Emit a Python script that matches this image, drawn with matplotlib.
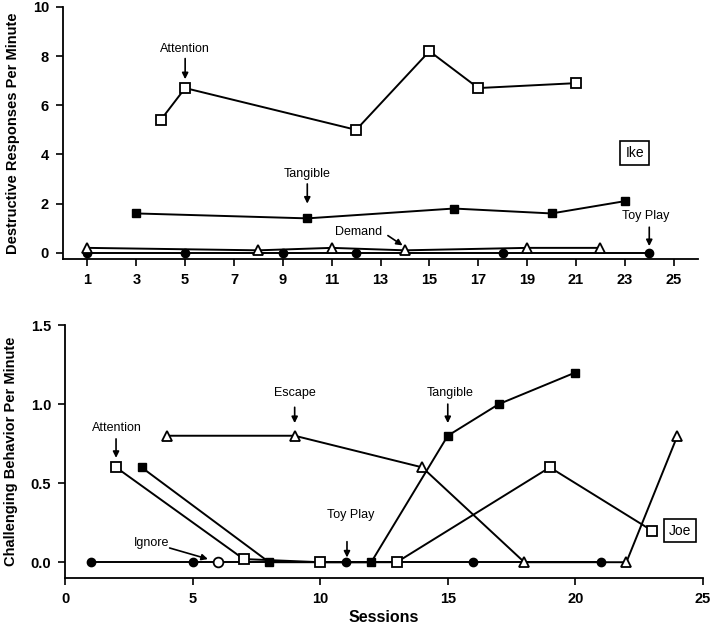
# Functional analysis graphs for Ike (top) and Joe (bottom)
import matplotlib
matplotlib.use("Agg")
from matplotlib import pyplot as plt

plt.rcParams['font.family'] = ['Liberation Sans', 'DejaVu Sans']

# Ike data
ike_att_x = [4, 5, 12, 15, 17, 21]
ike_att_y = [5.4, 6.7, 5.0, 8.2, 6.7, 6.9]
ike_tan_x = [3, 10, 16, 20, 23]
ike_tan_y = [1.6, 1.4, 1.8, 1.6, 2.1]
ike_dem_x = [1, 8, 11, 14, 19, 22]
ike_dem_y = [0.2, 0.1, 0.2, 0.1, 0.2, 0.2]
ike_toy_x = [1, 5, 9, 12, 18, 24]
ike_toy_y = [0, 0, 0, 0, 0, 0]
ike_xticks = [1, 3, 5, 7, 9, 11, 13, 15, 17, 19, 21, 23, 25]
ike_yticks = [0, 2, 4, 6, 8, 10]

# Joe data
joe_toy_x = [1, 5, 11, 16, 21]
joe_toy_y = [0, 0, 0, 0, 0]
joe_ign_x = [6]
joe_ign_y = [0]
joe_att_x = [2, 7, 10, 13, 19, 23]
joe_att_y = [0.6, 0.02, 0, 0, 0.6, 0.2]
joe_tan_x = [3, 8, 12, 15, 17, 20]
joe_tan_y = [0.6, 0, 0, 0.8, 1.0, 1.2]
joe_esc_x = [4, 9, 14, 18, 22, 24]
joe_esc_y = [0.8, 0.8, 0.6, 0, 0, 0.8]
joe_xticks = [0, 5, 10, 15, 20, 25]
joe_yticks = [0.0, 0.5, 1.0, 1.5]

fig = plt.figure(figsize=(7.12, 6.3), dpi=100)
ax1 = fig.add_axes([0.0885, 0.589, 0.892, 0.400])
ax2 = fig.add_axes([0.0913, 0.0825, 0.896, 0.4015])

lw = 1.4
ms = 7
sq_open = dict(marker='s', mfc='white', mec='black', mew=1.3, ms=ms)
sq_fill = dict(marker='s', mfc='black', mec='black', ms=ms - 1)
tri_open = dict(marker='^', mfc='white', mec='black', mew=1.3, ms=ms)
circ_fill = dict(marker='o', mfc='black', mec='black', ms=ms - 1)
circ_open = dict(marker='o', mfc='white', mec='black', mew=1.3, ms=ms)

# Top panel
ax1.plot(ike_toy_x, ike_toy_y, color='black', lw=lw, **circ_fill, zorder=3)
ax1.plot(ike_dem_x, ike_dem_y, color='black', lw=lw, **tri_open, zorder=4)
ax1.plot(ike_tan_x, ike_tan_y, color='black', lw=lw, **sq_fill, zorder=3)
ax1.plot(ike_att_x, ike_att_y, color='black', lw=lw, **sq_open, zorder=3)

arr = dict(arrowstyle='-|>', color='black', lw=1.2, mutation_scale=9,
           shrinkA=0, shrinkB=0)
fs = 9
ax1.annotate('', xy=(5, 7.06), xytext=(5, 7.9), arrowprops=arr)
ax1.text(5, 8.28, 'Attention', ha='center', va='center', fontsize=fs)
ax1.annotate('', xy=(10, 2.0), xytext=(10, 2.8), arrowprops=arr)
ax1.text(10, 3.2, 'Tangible', ha='center', va='center', fontsize=fs)
ax1.annotate('', xy=(13.9, 0.3), xytext=(13.3, 0.7), arrowprops=arr)
ax1.text(12.1, 0.84, 'Demand', ha='center', va='center', fontsize=fs)
ax1.annotate('', xy=(24, 0.27), xytext=(24, 1.04), arrowprops=arr)
ax1.text(23.85, 1.49, 'Toy Play', ha='center', va='center', fontsize=fs)
ax1.text(23.4, 4.05, 'Ike', ha='center', va='center', fontsize=10,
         bbox=dict(boxstyle='square,pad=0.35', fc='white', ec='black', lw=1.2))

ax1.set_xlim(0, 26)
ax1.set_ylim(-0.25, 10)
ax1.set_xticks(ike_xticks)
ax1.set_yticks(ike_yticks)
ax1.set_ylabel('Destructive Responses Per Minute', fontsize=10.5,
               fontweight='bold', labelpad=9)

# Bottom panel
ax2.plot(joe_toy_x, joe_toy_y, color='black', lw=lw, **circ_fill, zorder=3)
ax2.plot(joe_ign_x, joe_ign_y, color='black', lw=lw, **circ_open, zorder=4)
ax2.plot(joe_esc_x, joe_esc_y, color='black', lw=lw, **tri_open, zorder=4)
ax2.plot(joe_tan_x, joe_tan_y, color='black', lw=lw, **sq_fill, zorder=3)
ax2.plot(joe_att_x, joe_att_y, color='black', lw=lw, **sq_open, zorder=4)

ax2.annotate('', xy=(2, 0.66), xytext=(2, 0.78), arrowprops=arr)
ax2.text(2.05, 0.85, 'Attention', ha='center', va='center', fontsize=fs)
ax2.annotate('', xy=(9, 0.88), xytext=(9, 0.98), arrowprops=arr)
ax2.text(9.02, 1.07, 'Escape', ha='center', va='center', fontsize=fs)
ax2.annotate('', xy=(15, 0.88), xytext=(15, 1.0), arrowprops=arr)
ax2.text(15.1, 1.07, 'Tangible', ha='center', va='center', fontsize=fs)
ax2.annotate('', xy=(11.05, 0.03), xytext=(11.05, 0.13), arrowprops=arr)
ax2.text(11.2, 0.30, 'Toy Play', ha='center', va='center', fontsize=fs)
ax2.annotate('', xy=(5.6, 0.02), xytext=(4.1, 0.09), arrowprops=arr)
ax2.text(3.4, 0.12, 'Ignore', ha='center', va='center', fontsize=fs)
ax2.text(24.1, 0.2, 'Joe', ha='center', va='center', fontsize=10,
         bbox=dict(boxstyle='square,pad=0.35', fc='white', ec='black', lw=1.2))

ax2.set_xlim(0, 25)
ax2.set_ylim(-0.1, 1.5)
ax2.set_xticks(joe_xticks)
ax2.set_yticks(joe_yticks)
ax2.set_yticklabels(['0.0', '0.5', '1.0', '1.5'])
ax2.set_ylabel('Challenging Behavior Per Minute', fontsize=10.5,
               fontweight='bold', labelpad=9)
ax2.set_xlabel('Sessions', fontsize=11.5, fontweight='bold', labelpad=3)

for ax in (ax1, ax2):
    ax.spines['top'].set_visible(False)
    ax.spines['right'].set_visible(False)
    ax.spines['left'].set_linewidth(1.3)
    ax.spines['bottom'].set_linewidth(1.3)
    ax.tick_params(direction='out', length=5, width=1.2, labelsize=10.5, pad=5)
    for lab in ax.get_xticklabels() + ax.get_yticklabels():
        lab.set_fontweight('bold')

fig.savefig('out.png', dpi=100)
